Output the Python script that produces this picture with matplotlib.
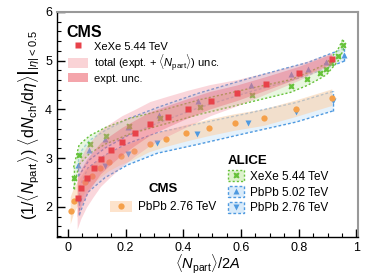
import matplotlib
matplotlib.use("Agg")
import matplotlib.pyplot as plt
import numpy as np
from matplotlib.patches import Patch
from matplotlib.lines import Line2D

plt.rcParams['font.family'] = ['Liberation Sans', 'DejaVu Sans']
plt.rcParams['mathtext.fontset'] = 'custom'
plt.rcParams['mathtext.rm'] = 'Liberation Sans'
plt.rcParams['mathtext.it'] = 'Liberation Sans:italic'
plt.rcParams['mathtext.bf'] = 'Liberation Sans:bold'

# CMS XeXe 5.44 TeV
cms_xe_x = [0.034, 0.047, 0.066, 0.089, 0.115, 0.150, 0.189, 0.234, 0.286, 0.347, 0.416, 0.495, 0.587, 0.686, 0.800, 0.916]
cms_xe_y = [2.18, 2.38, 2.60, 2.79, 2.99, 3.16, 3.34, 3.51, 3.70, 3.85, 4.01, 4.18, 4.33, 4.52, 4.75, 5.03]
cms_xe_tot = [0.65, 0.63, 0.62, 0.60, 0.58, 0.55, 0.52, 0.48, 0.45, 0.41, 0.37, 0.32, 0.27, 0.22, 0.17, 0.12]
cms_xe_exp = [0.40, 0.38, 0.36, 0.34, 0.32, 0.30, 0.28, 0.26, 0.24, 0.22, 0.20, 0.18, 0.16, 0.14, 0.12, 0.10]

# CMS PbPb 2.76 TeV
cms_pb_x = [0.010, 0.022, 0.060, 0.083, 0.111, 0.143, 0.184, 0.229, 0.283, 0.341, 0.411, 0.489, 0.578, 0.679, 0.789, 0.916]
cms_pb_y = [1.92, 2.13, 2.52, 2.64, 2.79, 2.92, 3.04, 3.14, 3.29, 3.40, 3.51, 3.62, 3.73, 3.83, 4.01, 4.24]
cms_pb_unc = [0.28, 0.26, 0.23, 0.21, 0.20, 0.19, 0.18, 0.18, 0.17, 0.17, 0.17, 0.17, 0.17, 0.17, 0.17, 0.17]

# ALICE XeXe 5.44 TeV
al_xe_x = [0.020, 0.039, 0.076, 0.131, 0.212, 0.319, 0.458, 0.639, 0.772, 0.829, 0.873, 0.896, 0.913, 0.935, 0.954]
al_xe_y = [2.59, 3.07, 3.28, 3.46, 3.65, 3.82, 4.05, 4.30, 4.48, 4.62, 4.75, 4.83, 4.95, 5.10, 5.33]
al_xe_unc = [0.22, 0.20, 0.18, 0.17, 0.16, 0.15, 0.15, 0.14, 0.13, 0.13, 0.12, 0.12, 0.12, 0.12, 0.12]

# ALICE PbPb 5.02 TeV
al_pb5_x = [0.037, 0.074, 0.130, 0.210, 0.316, 0.452, 0.636, 0.772, 0.831, 0.896, 0.958]
al_pb5_y = [2.85, 3.16, 3.39, 3.64, 3.89, 4.18, 4.51, 4.73, 4.83, 4.98, 5.12]
al_pb5_unc = [0.22, 0.20, 0.18, 0.17, 0.16, 0.15, 0.14, 0.14, 0.13, 0.13, 0.13]

# ALICE PbPb 2.76 TeV
al_pb2_x = [0.040, 0.070, 0.129, 0.207, 0.310, 0.449, 0.625, 0.791, 0.920]
al_pb2_y = [2.12, 2.55, 2.83, 3.08, 3.31, 3.49, 3.72, 3.94, 4.17]
al_pb2_unc = [0.28, 0.25, 0.23, 0.22, 0.21, 0.21, 0.20, 0.20, 0.20]

red = '#e8424a'
orange = '#f5a04a'
green = '#66c23a'
blue = '#4f9ae0'

fig = plt.figure(figsize=(3.74, 2.76), dpi=100)
ax = fig.add_axes([0.152, 0.141, 0.805, 0.816])


def band(x, y, e, face, edge, ls, z):
    x = np.array(x)
    y = np.array(y)
    e = np.array(e)
    ax.fill_between(x, y - e, y + e, facecolor=face, edgecolor='none', zorder=z)
    if edge is not None:
        ax.plot(x, y + e, color=edge, ls=ls, lw=1.0, zorder=z + 0.1)
        ax.plot(x, y - e, color=edge, ls=ls, lw=1.0, zorder=z + 0.1)
        ax.plot([x[0], x[0]], [y[0] - e[0], y[0] + e[0]], color=edge, ls=ls, lw=1.0, zorder=z + 0.1)
        ax.plot([x[-1], x[-1]], [y[-1] - e[-1], y[-1] + e[-1]], color=edge, ls=ls, lw=1.0, zorder=z + 0.1)


# ALICE + CMS PbPb bands
band(al_pb2_x, al_pb2_y, al_pb2_unc, (0.80, 0.90, 0.98, 0.5), blue, (0, (2, 1.5)), 1)
band(cms_pb_x, cms_pb_y, cms_pb_unc, (0.98, 0.84, 0.70, 0.65), None, '-', 1.5)
band(al_pb5_x, al_pb5_y, al_pb5_unc, (0.80, 0.90, 0.98, 0.5), blue, (0, (2, 1.5)), 2)
band(al_xe_x, al_xe_y, al_xe_unc, (0.85, 0.95, 0.80, 0.6), green, (0, (1.5, 1.5)), 2.5)

ax.plot(al_pb2_x, al_pb2_y, 'v', color=blue, ms=4.5, mec='none', ls='none', zorder=3)
ax.plot(al_pb5_x, al_pb5_y, '^', color=blue, ms=4.5, mec='none', ls='none', zorder=3)
ax.plot(al_xe_x, al_xe_y, 'X', color=green, ms=4.5, mec='none', ls='none', zorder=3)
ax.plot(cms_pb_x, cms_pb_y, 'o', color=orange, ms=4.5, mec='none', ls='none', zorder=3)

# CMS XeXe bands
xx = np.array(cms_xe_x)
yy = np.array(cms_xe_y)
ax.fill_between(xx, yy - np.array(cms_xe_tot), yy + np.array(cms_xe_tot),
                facecolor=(0.95, 0.55, 0.60, 0.35), edgecolor='none', zorder=4)
ax.fill_between(xx, yy - np.array(cms_xe_exp), yy + np.array(cms_xe_exp),
                facecolor=(0.92, 0.35, 0.42, 0.35), edgecolor='none', zorder=4.5)
ax.plot(cms_xe_x, cms_xe_y, 's', color=red, ms=4.2, mec='none', ls='none', zorder=5)

ax.set_xlim(-0.038, 1.005)
ax.set_ylim(1.38, 6)
ax.set_xticks([0, 0.2, 0.4, 0.6, 0.8, 1])
ax.set_xticklabels(['0', '0.2', '0.4', '0.6', '0.8', '1'])
ax.set_yticks([2, 3, 4, 5, 6])
ax.set_xticks(np.arange(0, 1.001, 0.05), minor=True)
ax.set_yticks(np.arange(1.4, 6.001, 0.2), minor=True)
ax.tick_params(which='both', direction='in', top=False, right=False, labelsize=9)
ax.tick_params(which='major', length=6, width=1.0)
ax.tick_params(which='minor', length=3, width=0.8)
for s in ['top', 'right']:
    ax.spines[s].set_color('#999999')
    ax.spines[s].set_linewidth(1.5)
for s in ['left', 'bottom']:
    ax.spines[s].set_linewidth(1.0)

ax.set_xlabel(r'$\langle N_{\rm part}\rangle/2A$', fontsize=10.5, labelpad=-1)
ax.set_ylabel(r'$(1/\langle N_{\rm part}\rangle)\ \left.\langle {\rm d}N_{\rm ch}/{\rm d}\eta\rangle\right|_{|\eta|<0.5}$',
              fontsize=11.5, labelpad=2)

ax.text(0.03, 0.94, 'CMS', transform=ax.transAxes, fontsize=11.5, fontweight='bold', va='top')

h1 = [Line2D([], [], marker='s', color=red, ms=4.2, mec='none', ls='none'),
      Patch(facecolor='#fad3d6', edgecolor='none'),
      Patch(facecolor='#f4a5ab', edgecolor='none')]
l1 = ['XeXe 5.44 TeV', r'total (expt. + $\langle N_{\rm part}\rangle$) unc.', 'expt. unc.']
leg1 = ax.legend(h1, l1, loc='upper left', bbox_to_anchor=(0.03, 0.88), frameon=False,
                 fontsize=8, handlelength=1.8, handleheight=0.9, labelspacing=0.05,
                 handletextpad=0.5, borderpad=0.2, borderaxespad=0)
ax.add_artist(leg1)

h2 = [(Patch(facecolor='#fde3cc', edgecolor='none'),
       Line2D([], [], marker='o', color=orange, ms=4.5, mec='none', ls='none'))]
leg2 = ax.legend(h2, ['PbPb 2.76 TeV'], loc='lower left', bbox_to_anchor=(0.17, 0.095), frameon=False,
                 fontsize=8.5, handlelength=1.8, handleheight=1.0, handletextpad=0.5,
                 title='CMS', title_fontproperties={'weight': 'bold', 'size': 9.5},
                 borderpad=0.2, borderaxespad=0)
leg2._legend_box.align = 'center'
ax.add_artist(leg2)

h3 = [(Patch(facecolor='#ddf2cc', edgecolor=green, ls=(0, (1.5, 1.5))),
       Line2D([], [], marker='X', color=green, ms=4.5, mec='none', ls='none')),
      (Patch(facecolor='#d9ebfa', edgecolor=blue, ls=(0, (2, 1.5))),
       Line2D([], [], marker='^', color=blue, ms=4.5, mec='none', ls='none')),
      (Patch(facecolor='#d9ebfa', edgecolor=blue, ls=(0, (2, 1.5))),
       Line2D([], [], marker='v', color=blue, ms=4.5, mec='none', ls='none'))]
leg3 = ax.legend(h3, ['XeXe 5.44 TeV', 'PbPb 5.02 TeV', 'PbPb 2.76 TeV'], loc='lower left',
                 bbox_to_anchor=(0.56, 0.09), frameon=False, fontsize=8.5,
                 handlelength=1.4, handleheight=1.0, handletextpad=0.5, labelspacing=0.3,
                 title='ALICE', title_fontproperties={'weight': 'bold', 'size': 9.5},
                 borderpad=0.2, borderaxespad=0)
leg3._legend_box.align = 'left'

fig.savefig('out.png', dpi=100)
